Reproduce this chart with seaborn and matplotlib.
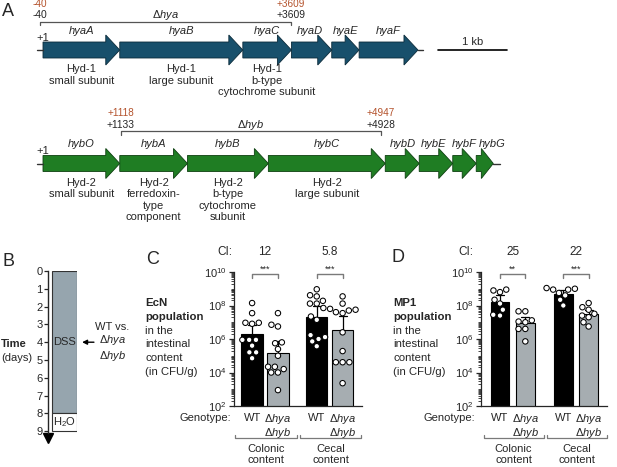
import numpy as np
import pandas as pd
import matplotlib
matplotlib.use("Agg")
import matplotlib.pyplot as plt
import seaborn as sns
from matplotlib.patches import Polygon
from matplotlib.ticker import LogLocator, NullFormatter
from matplotlib.transforms import blended_transform_factory as blend

# ---------------- data ----------------
# panel A: operon maps (gene lengths in bp)
hya_genes = ["hyaA", "hyaB", "hyaC", "hyaD", "hyaE", "hyaF"]
hya_len = [1119, 1794, 708, 588, 399, 858]
hya_desc = ["Hyd-1\nsmall subunit", "Hyd-1\nlarge subunit",
            "Hyd-1\nb-type\ncytochrome subunit", "", "", ""]
hya_del = [-40, 3609]
hya_del_alt = ["-40", "+3609"]

hyb_genes = ["hybO", "hybA", "hybB", "hybC", "hybD", "hybE", "hybF", "hybG"]
hyb_len = [1119, 987, 1179, 1704, 495, 489, 342, 249]
hyb_desc = ["Hyd-2\nsmall subunit", "Hyd-2\nferredoxin-\ntype\ncomponent",
            "Hyd-2\nb-type\ncytochrome\nsubunit", "Hyd-2\nlarge subunit", "", "", "", ""]
hyb_del = [1133, 4928]
hyb_del_alt = ["+1118", "+4947"]
scale_bar_bp = 1000

# panel B: treatment timeline (days)
phases = ["DSS", "H$_2$O"]
phase_start = [0, 8]
phase_end = [8, 9]
days = list(range(10))
infection_day = 4

# panels C / D: CFU per g of intestinal content
sites = ["Colonic", "Cecal"]
genotypes = ["WT", "mut"]

ecn_colonic_wt = [1.4e8, 3.5e7, 8.1e6, 9.3e6, 9.3e6, 8.9e5, 8.9e5, 8.9e5, 4.0e5, 1.6e5, 1.6e5, 7.1e4]
ecn_colonic_mut = [3.5e7, 5.6e6, 7.1e6, 6.3e5, 5.6e5, 2.5e5, 1.0e5, 2.2e4, 2.2e4, 1.6e4, 1.0e4, 1.0e4, 8.9e2]
ecn_cecal_wt = [9.3e8, 3.5e8, 4.1e8, 1.3e8, 1.3e8, 1.9e8, 2.2e7, 1.4e7, 1.3e6, 1.7e6, 1.0e6, 7.2e5, 3.7e5]
ecn_cecal_mut = [3.5e8, 1.3e8, 7.1e7, 5.6e7, 6.3e7, 5.0e7, 4.0e7, 3.5e7, 2.5e6, 1.9e5, 4.1e4, 4.1e4, 4.1e4, 2.3e3]
ecn_ci = ["12", "5.8"]
ecn_stars = ["***", "***"]

mp1_colonic_wt = [8.9e8, 6.3e8, 7.9e8, 2.2e8, 1.3e8, 5.6e7, 2.8e7, 2.5e7]
mp1_colonic_mut = [4.5e7, 4.5e7, 1.3e7, 1.1e7, 1.0e7, 4.0e6, 4.0e6, 7.2e5]
mp1_cecal_wt = [1.1e9, 8.9e8, 1.0e9, 8.9e8, 5.6e8, 4.0e8, 2.2e8, 1.0e8]
mp1_cecal_mut = [1.4e8, 7.9e7, 5.6e7, 3.2e7, 2.5e7, 2.0e7, 1.0e7, 5.6e6]
mp1_ci = ["25", "22"]
mp1_stars = ["**", "***"]

# ---------------- style ----------------
sns.set_style("ticks")
plt.rcParams["font.family"] = ["Liberation Sans", "DejaVu Sans"]
plt.rcParams["mathtext.fontset"] = "custom"
plt.rcParams["mathtext.rm"] = "Liberation Sans"
plt.rcParams["mathtext.it"] = "Liberation Sans:italic"
plt.rcParams["mathtext.bf"] = "Liberation Sans:bold"

FS = 8
HYA_COL, HYA_EDGE = "#18506c", "#0c2b3a"
HYB_COL, HYB_EDGE = "#1f7d23", "#0d3f10"
RED = "#b4532d"
BAR_GREY = "#a4adb3"
BOX_GREY = "#96a5ae"
BRACKET = "#7a7a7a"
DHYA = r"$\Delta\mathit{hya}$"
DHYB = r"$\Delta\mathit{hyb}$"

W, H = 617, 467
fig = plt.figure(figsize=(W / 100, H / 100), dpi=100)


def fx(x):
    return x / W


def fy(y):
    return 1 - y / H


# overlay in pixel coordinates for free text
lay = fig.add_axes([0, 0, 1, 1])
lay.set_xlim(0, W)
lay.set_ylim(H, 0)
lay.axis("off")

for letter, x, y in [("A", 8, 12), ("B", 8, 261), ("C", 153, 259), ("D", 398, 258)]:
    lay.text(x, y, letter, fontsize=13, ha="center", va="center")

# ---------------- panel A ----------------
K = 0.0686   # px per bp
X0 = 43      # px of +1
axA = fig.add_axes([0, 0, 1, 1])
axA.set_xlim(-X0 / K, (W - X0) / K)
axA.set_ylim(H, 0)
axA.axis("off")


def operon(ax, names, lengths, descs, yc, color, edge, stub_r, nudge):
    ends = np.cumsum(lengths)
    starts = ends - np.array(lengths)
    ax.plot([-6 / K, 0], [yc, yc], color="#333333", lw=1)
    ax.plot([ends[-1], ends[-1] + stub_r / K], [yc, yc], color="#333333", lw=1)
    for name, s, e, d, nd in zip(names, starts, ends, descs, nudge):
        hl = min(14 / K, 0.7 * (e - s))
        body, head = 8, 15
        verts = [(s, yc - body), (e - hl, yc - body), (e - hl, yc - head), (e, yc),
                 (e - hl, yc + head), (e - hl, yc + body), (s, yc + body)]
        ax.add_patch(Polygon(verts, closed=True, fc=color, ec=edge, lw=0.6))
        mid = (s + e) / 2
        ax.text(mid + nd / K, yc - 19.5, name, style="italic", ha="center", va="center",
                fontsize=FS)
        if d:
            ax.text(mid, yc + 14, d, ha="center", va="top", fontsize=FS, linespacing=1.2)
    ax.text(-10, yc - 12, "+1", ha="center", va="center", fontsize=FS)


def deletion(ax, span, alt, label, y):
    ax.plot([span[0], span[0], span[1], span[1]], [y + 3.5, y, y, y + 3.5],
            color="#555555", lw=0.9)
    for x, a in zip(span, alt):
        ax.text(x, y - 17.7, a, color=RED, ha="center", va="center", fontsize=7.2)
        ax.text(x, y - 6.3, f"{x:+d}", ha="center", va="center", fontsize=7.4)
    ax.text(np.mean(span), y - 6.3, label, ha="center", va="center", fontsize=FS)


operon(axA, hya_genes, hya_len, hya_desc, 50, HYA_COL, HYA_EDGE, 5, [0, 0, 0, -2, 0, 0])
deletion(axA, hya_del, hya_del_alt, DHYA, 21.5)
operon(axA, hyb_genes, hyb_len, hyb_desc, 163.5, HYB_COL, HYB_EDGE, 7,
       [0, 0, 0, 0, 1, -2, 0, 7])
deletion(axA, hyb_del, hyb_del_alt, DHYB, 131)

sb_x = 5760
axA.plot([sb_x, sb_x + scale_bar_bp], [50, 50], color="black", lw=1.2)
axA.text(sb_x + scale_bar_bp / 2, 42, "1 kb", ha="center", va="center", fontsize=FS)

# ---------------- panel B ----------------
axB = fig.add_axes([fx(48), fy(433), 29 / W, (433 - 271) / H])
axB.set_xlim(0, 1)
axB.set_ylim(9.1, 0)
axB.bar(0.569, np.subtract(phase_end, phase_start), bottom=phase_start, width=0.862,
        color=[BOX_GREY, "white"], edgecolor="#333333", linewidth=0.8)
for name, s, e in zip(phases, phase_start, phase_end):
    axB.text(0.569, (s + e) / 2, name, ha="center", va="center", fontsize=FS)
axB.set_yticks(days)
axB.set_xticks([])
axB.tick_params(axis="y", labelsize=FS, length=3, width=0.9, pad=1)
for side in ["top", "right", "bottom"]:
    axB.spines[side].set_visible(False)
axB.spines["left"].set_linewidth(1.0)
axB.plot([0], [9.38], marker="v", ms=7.5, color="black", clip_on=False)
tB = axB.get_yaxis_transform()
axB.annotate("", xy=(1.08, infection_day), xytext=(1.68, infection_day),
             xycoords=tB, textcoords=tB,
             arrowprops=dict(arrowstyle="-|>", color="black", lw=1.0, mutation_scale=7))
axB.text(2.22, infection_day, "WT vs.\n" + DHYA + "\n" + DHYB, transform=tB,
         ha="center", va="center", fontsize=FS, linespacing=1.15)
lay.text(1, 344, "Time", fontweight="bold", fontsize=FS, ha="left", va="center")
lay.text(1, 358, "(days)", fontsize=FS, ha="left", va="center")


# ---------------- panels C / D ----------------
def frame(groups):
    rows = []
    for (site, gt), vals in groups.items():
        rows += [(site, gt, v) for v in vals]
    return pd.DataFrame(rows, columns=["site", "genotype", "cfu"])


ecn = frame({("Colonic", "WT"): ecn_colonic_wt, ("Colonic", "mut"): ecn_colonic_mut,
             ("Cecal", "WT"): ecn_cecal_wt, ("Cecal", "mut"): ecn_cecal_mut})
mp1 = frame({("Colonic", "WT"): mp1_colonic_wt, ("Colonic", "mut"): mp1_colonic_mut,
             ("Cecal", "WT"): mp1_cecal_wt, ("Cecal", "mut"): mp1_cecal_mut})


def cfu_panel(rect, df, gap, xlim, bug, ci, stars, lab_x, geno_x, ci_x):
    ax = fig.add_axes(rect)
    sns.barplot(data=df, x="site", y="cfu", hue="genotype", order=sites, hue_order=genotypes,
                palette={"WT": "black", "mut": BAR_GREY}, log_scale=True,
                errorbar=("ci", 95), seed=3, capsize=0.25,
                err_kws={"color": "black", "linewidth": 0.9, "zorder": 0.5},
                edgecolor="black", linewidth=0.8, width=0.8, gap=gap, legend=False, ax=ax)
    sns.swarmplot(data=df, x="site", y="cfu", hue="genotype", order=sites, hue_order=genotypes,
                  palette={"WT": "white", "mut": "white"}, dodge=True, size=3.9,
                  edgecolor="black", linewidth=0.75, legend=False, ax=ax, zorder=3)
    # seaborn masks non-positive values; clip instead so bars start below the axis
    ax.set_yscale("log", nonpositive="clip")
    ax.set_ylim(1e2, 1e10)
    ax.set_xlim(*xlim)
    ax.yaxis.set_major_locator(LogLocator(base=100, numticks=10))
    ax.yaxis.set_minor_locator(LogLocator(base=10, subs=np.arange(1, 10), numticks=30))
    ax.yaxis.set_minor_formatter(NullFormatter())
    ax.tick_params(axis="y", which="major", labelsize=FS, length=3.5, width=0.9, pad=2)
    ax.tick_params(axis="y", which="minor", length=2, width=0.6)
    ax.tick_params(axis="x", length=0, labelbottom=False)
    ax.set_xlabel("")
    ax.set_ylabel("")
    sns.despine(ax=ax)
    for s in ["left", "bottom"]:
        ax.spines[s].set_linewidth(0.9)

    t = blend(ax.transData, lay.transData)
    lay.text(ci_x, 252, "CI:", ha="center", va="center", fontsize=FS + 0.5)
    for i, (c, st) in enumerate(zip(ci, stars)):
        ax.text(i, 252, c, transform=t, ha="center", va="center", fontsize=FS + 0.5)
        ax.plot([i - 0.2, i - 0.2, i + 0.2, i + 0.2], [277.5, 274, 274, 277.5], transform=t,
                color=BRACKET, lw=1, clip_on=False)
        ax.text(i, 269.5, st, transform=t, ha="center", va="center", fontsize=6.5,
                clip_on=False)
        ax.text(i - 0.2, 418, "WT", transform=t, ha="center", va="center", fontsize=FS)
        ax.text(i + 0.2, 412, DHYA + "\n" + DHYB, transform=t, ha="center", va="top",
                fontsize=FS, linespacing=0.95)
        lo, hi = i - 0.46, i + 0.49
        ax.plot([lo, lo, hi, hi], [435, 438, 438, 435], transform=t, color=BRACKET,
                lw=0.9, clip_on=False)
        ax.text((lo + hi) / 2, 444, sites[i] + "\ncontent", transform=t, ha="center",
                va="top", fontsize=FS, linespacing=1.1)
    lay.text(geno_x, 418, "Genotype:", ha="right", va="center", fontsize=FS)
    for j, (txt, bold) in enumerate([(bug, True), ("population", True), ("in the", False),
                                      ("intestinal", False), ("content", False),
                                      ("(in CFU/g)", False)]):
        lay.text(lab_x, 303 + 13.8 * j, txt, ha="left", va="center", fontsize=FS + 0.2,
                 fontweight="bold" if bold else "normal")
    return ax


cfu_panel([fx(234), fy(406), (362 - 234) / W, (406 - 272) / H], ecn, 0.18, (-0.48, 1.5),
          "EcN", ecn_ci, ecn_stars, 145, 231, 225)
cfu_panel([fx(481), fy(406), (607 - 481) / W, (406 - 272) / H], mp1, 0.27, (-0.5, 1.49),
          "MP1", mp1_ci, mp1_stars, 393, 475, 466)

fig.savefig("out.png", dpi=100)
